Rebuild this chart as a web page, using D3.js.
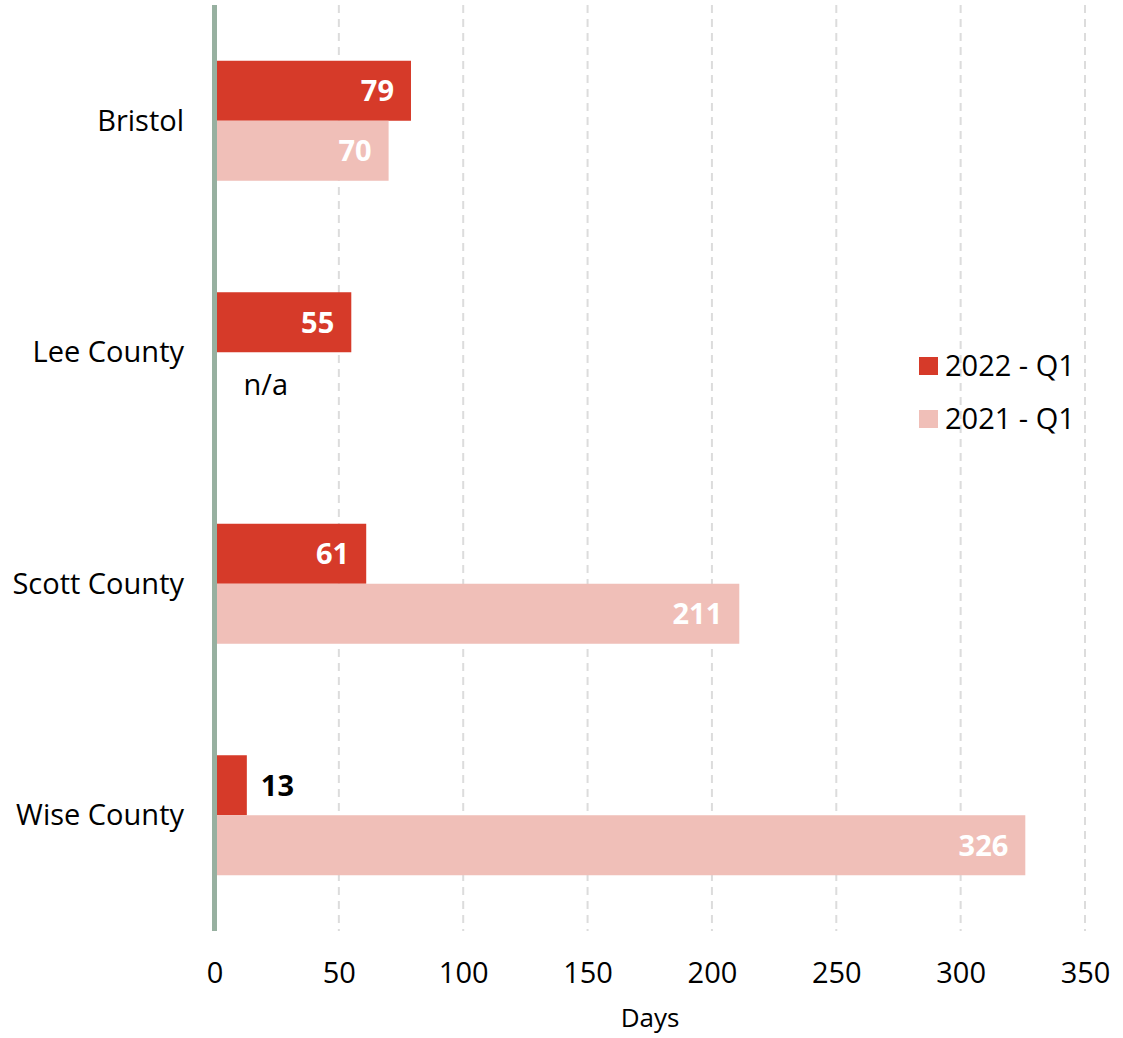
<!DOCTYPE html>
<html>
<head>
<meta charset="utf-8">
<script src="https://cdn.jsdelivr.net/npm/d3@7"></script>
<style>
	body { margin: 0; background: #fff; }
	svg { font-family: "Open Sans", sans-serif; }
</style>
</head>
<body>
<div id="chart"></div>
<script>
// chart data
const categories = ["Bristol", "Lee County", "Scott County", "Wise County"];
const seriesNames = ["2022 - Q1", "2021 - Q1"];
const values2022 = [79, 55, 61, 13];
const values2021 = [70, null, 211, 326];
const xTicks = [0, 50, 100, 150, 200, 250, 300, 350];

const width = 1123;
const height = 1038;
const colors = { "2022 - Q1": "#d63a29", "2021 - Q1": "#f0bfb8" };
const fontSize = "29px";

const svg = d3.select("#chart")
	.append("svg")
	.attr("width", width)
	.attr("height", height);

const xScale = d3.scaleLinear()
	.domain([0, 350])
	.range([214.5, 1085]);

const yScale = d3.scaleBand()
	.domain(categories)
	.range([5, 931]);

// inner band for the two series, bars are 60px each
const groupHeight = 120;
const ySub = d3.scaleBand()
	.domain(seriesNames)
	.range([0, groupHeight]);

// dashed grid lines
svg.append("g")
	.selectAll("line")
	.data(xTicks.filter((d) => d > 0))
	.join("line")
	.attr("x1", (d) => xScale(d))
	.attr("x2", (d) => xScale(d))
	.attr("y1", 5)
	.attr("y2", 931)
	.attr("stroke", "#dcdcdc")
	.attr("stroke-width", 2)
	.attr("stroke-dasharray", "8,6");

// reshape to one row per bar
const rows = [];
categories.forEach((cat, i) => {
	rows.push({ cat: cat, series: "2022 - Q1", value: values2022[i] });
	rows.push({ cat: cat, series: "2021 - Q1", value: values2021[i] });
});

const barY = (d) =>
	yScale(d.cat) + (yScale.bandwidth() - groupHeight) / 2 + ySub(d.series);

svg.append("g")
	.selectAll("rect")
	.data(rows.filter((d) => d.value !== null))
	.join("rect")
	.attr("x", xScale(0))
	.attr("y", barY)
	.attr("width", (d) => xScale(d.value) - xScale(0))
	.attr("height", ySub.bandwidth())
	.attr("fill", (d) => colors[d.series]);

// value labels: inside in white, outside in black when the bar is short
svg.append("g")
	.selectAll("text")
	.data(rows)
	.join("text")
	.attr("y", (d) => barY(d) + ySub.bandwidth() / 2)
	.attr("dy", (d) => (d.value === null ? "0.45em" : "0.36em"))
	.style("font-size", fontSize)
	.style("font-weight", (d) => (d.value === null ? "normal" : "bold"))
	.each(function (d) {
		const t = d3.select(this);
		if (d.value === null) {
			t.attr("x", xScale(0) + 29).attr("text-anchor", "start")
				.attr("fill", "#000").text("n/a");
		} else if (d.value < 20) {
			t.attr("x", xScale(d.value) + 14).attr("text-anchor", "start")
				.attr("fill", "#000").text(d.value);
		} else {
			t.attr("x", xScale(d.value) - 17).attr("text-anchor", "end")
				.attr("fill", "#fff").text(d.value);
		}
	});

// y axis line
svg.append("line")
	.attr("x1", xScale(0))
	.attr("x2", xScale(0))
	.attr("y1", 5)
	.attr("y2", 931)
	.attr("stroke", "#97b0a0")
	.attr("stroke-width", 5);

// category labels
svg.append("g")
	.selectAll("text")
	.data(categories)
	.join("text")
	.attr("x", 184)
	.attr("y", (d) => yScale(d) + yScale.bandwidth() / 2)
	.attr("dy", "0.34em")
	.attr("text-anchor", "end")
	.attr("fill", "#000")
	.style("font-size", fontSize)
	.text((d) => d);

// x axis tick labels
const xAxis = svg.append("g")
	.attr("transform", "translate(0, 931)")
	.call(d3.axisBottom(xScale).tickValues(xTicks).tickSize(0).tickPadding(31));
xAxis.select(".domain").remove();
xAxis.selectAll("text")
	.attr("fill", "#000")
	.style("font-family", "'Open Sans', sans-serif")
	.style("font-size", fontSize);

svg.append("text")
	.attr("x", 650)
	.attr("y", 1027)
	.attr("text-anchor", "middle")
	.attr("fill", "#000")
	.style("font-size", "26px")
	.text("Days");

// legend
const legend = svg.append("g")
	.selectAll("g")
	.data(seriesNames)
	.join("g")
	.attr("transform", (d, i) => `translate(919, ${366 + i * 53})`);
legend.append("rect")
	.attr("x", 0)
	.attr("y", -9)
	.attr("width", 19)
	.attr("height", 18)
	.attr("fill", (d) => colors[d]);
legend.append("text")
	.attr("x", 26)
	.attr("dy", "0.34em")
	.attr("fill", "#000")
	.style("font-size", fontSize)
	.text((d) => d);
</script>
</body>
</html>
